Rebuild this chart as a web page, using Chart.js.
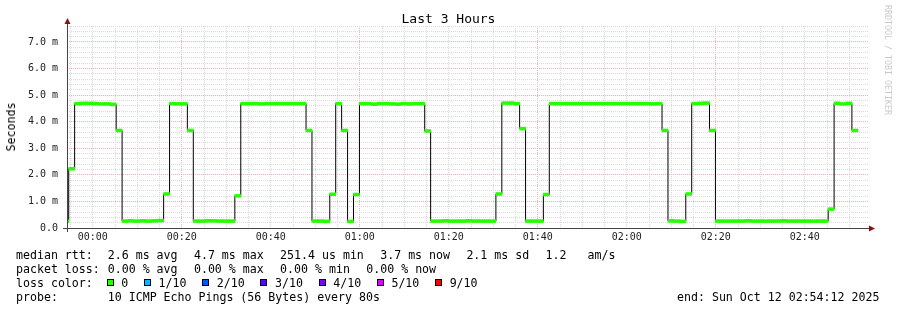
<!DOCTYPE html>
<html>
<head>
<meta charset="utf-8">
<script src="https://cdn.jsdelivr.net/npm/chart.js@4/dist/chart.umd.min.js"></script>
<style>
  body { margin: 0; background: #fff; }
  #wrap { position: relative; width: 897px; height: 310px; font-family: "DejaVu Sans Mono", monospace; color: #000; overflow: hidden; }
  #graph { position: absolute; left: 0; top: 0; }
  .title { position: absolute; left: 0; width: 897px; top: 11px; text-align: center; font-size: 13px; line-height: 16px; }
  .ylabel { position: absolute; left: 11px; top: 127px; font-size: 11.6px; line-height: 14px; transform: translate(-50%, -50%) rotate(-90deg); white-space: pre; }
  .mark { position: absolute; left: 883px; top: 5px; font-size: 8.3px; line-height: 10px; color: #cacaca; writing-mode: vertical-rl; white-space: pre; }
  .line { position: absolute; left: 16px; font-size: 11.6px; line-height: 14px; white-space: pre; }
  .gap { font-style: normal; margin-right: 2.4px; }
  .gap0 { font-style: normal; margin-right: 1px; }
  .end { position: absolute; left: 677px; font-size: 11.6px; line-height: 14px; white-space: pre; }
  #lossRow { position: absolute; left: 16px; top: 275.5px; font-size: 11.6px; line-height: 14px; white-space: pre; display: flex; align-items: center; }
  .sq { display: inline-block; width: 7px; height: 7px; box-sizing: border-box; border: 1px solid #000; margin-right: 7.5px; }
  .item { display: inline-flex; align-items: center; margin-right: 15.8px; }
  .item:first-of-type { margin-left: 2.3px; }
</style>
</head>
<body>
<div id="wrap">
  <canvas id="graph" width="897" height="310"></canvas>
  <div class="title">Last 3 Hours</div>
  <div class="ylabel">Seconds</div>
  <div class="mark">RRDTOOL / TOBI OETIKER</div>
  <div class="line" style="top:247.5px">median rtt:  <i class="gap0"></i>2.6 ms avg<i class="gap">  </i>4.7 ms max<i class="gap">  </i>251.4 us min<i class="gap">  </i>3.7 ms now<i class="gap">  </i>2.1 ms sd<i class="gap">  </i>1.2   am/s</div>
  <div class="line" style="top:261.5px">packet loss: <i class="gap0"></i>0.00 % avg<i class="gap">  </i>0.00 % max<i class="gap">  </i>0.00 % min<i class="gap">  </i>0.00 % now</div>
  <div id="lossRow"><span>loss color:  </span></div>
  <div class="line" style="top:289.5px">probe:       <i class="gap0"></i>10 ICMP Echo Pings (56 Bytes) every 80s</div>
  <div class="end" style="top:289.5px">end: Sun Oct 12 02:54:12 2025</div>
</div>
<script>
// median rtt of each 80 s probe round, in ms
const rttMedian = [
    0.25, 2.23,
    4.68, 4.69, 4.69, 4.68, 4.67, 4.67, 4.65,
    3.67,
    0.26, 0.27, 0.26, 0.27, 0.26, 0.27, 0.28,
    1.28,
    4.68, 4.67, 4.67,
    3.67,
    0.26, 0.26, 0.27, 0.27, 0.26, 0.26, 0.26,
    1.21,
    4.68, 4.68, 4.68, 4.67, 4.68, 4.68, 4.68, 4.68, 4.68, 4.68, 4.68,
    3.67,
    0.26, 0.26, 0.25,
    1.27,
    4.68,
    3.67,
    0.25,
    1.26,
    4.68, 4.68, 4.66, 4.68, 4.68, 4.67, 4.66, 4.68, 4.67, 4.68, 4.68,
    3.65,
    0.26, 0.26, 0.27, 0.26, 0.26, 0.26, 0.27, 0.26, 0.26, 0.26, 0.26,
    1.28,
    4.70, 4.70, 4.68,
    3.74,
    0.26, 0.26, 0.26,
    1.26,
    4.68, 4.68, 4.68, 4.68, 4.68, 4.68, 4.68, 4.68, 4.68, 4.68,
    4.68, 4.68, 4.68, 4.68, 4.68, 4.68, 4.68, 4.67, 4.68,
    3.67,
    0.27, 0.26, 0.25,
    1.28,
    4.68, 4.69, 4.70,
    3.67,
    0.26, 0.26, 0.26, 0.26, 0.26, 0.27, 0.26, 0.26, 0.26, 0.26,
    0.26, 0.27, 0.26, 0.26, 0.26, 0.26, 0.26, 0.26, 0.26,
    0.71,
    4.69, 4.67, 4.69,
    3.67
];

// time, in minutes from 00:00
const firstStepStart = -6.75;   // first round, partly before the window
const stepMinutes = 80 / 60;
const windowStart = -5.8;       // 23:54:12
const windowEnd = 174.2;        // 02:54:12

const xLabelMinutes = [0, 20, 40, 60, 80, 100, 120, 140, 160];
const xLabels = ["00:00", "00:20", "00:40", "01:00", "01:20", "01:40", "02:00", "02:20", "02:40"];
const xMajorMinutes = [20, 60, 100, 140];

const yLabelValues = [0, 1, 2, 3, 4, 5, 6, 7];
const yLabels = ["0.0", "1.0 m", "2.0 m", "3.0 m", "4.0 m", "5.0 m", "6.0 m", "7.0 m"];
const yMax = 7.6;

const lossLabels = ["0", "1/10", "2/10", "3/10", "4/10", "5/10", "9/10"];
const lossColors = ["#26ff00", "#00b8ff", "#0059ff", "#5e00ff", "#7e00ff", "#dd00ff", "#ff0000"];

// loss colour legend
const lossRow = document.getElementById("lossRow");
lossLabels.forEach((label, i) => {
    const item = document.createElement("span");
    item.className = "item";
    const sq = document.createElement("span");
    sq.className = "sq";
    sq.style.background = lossColors[i];
    item.appendChild(sq);
    item.appendChild(document.createTextNode(label));
    lossRow.appendChild(item);
});

const stepStarts = rttMedian.map((v, i) => firstStepStart + i * stepMinutes);
const bandHalf = 0.055;

const medianBars = rttMedian.map((v, i) => ({ x: stepStarts[i] + stepMinutes / 2, y: [v - bandHalf, v + bandHalf] }));
const medianLine = rttMedian.map((v, i) => ({ x: stepStarts[i], y: v }));
medianLine.push({ x: stepStarts[stepStarts.length - 1] + stepMinutes, y: rttMedian[rttMedian.length - 1] });

const gridGray = "#dadada";
const gridRed = "#f2b0b0";

function near(a, b) { return Math.abs(a - b) < 1e-6; }

// axes with arrows, drawn like rrdtool does
const axisPlugin = {
    id: "rrdAxes",
    afterDraw(chart) {
        const { left, right, top, bottom } = chart.chartArea;
        const ctx = chart.ctx;
        ctx.save();
        ctx.strokeStyle = "#444";
        ctx.lineWidth = 1;
        ctx.beginPath();
        ctx.moveTo(left - 4, bottom + 0.5);
        ctx.lineTo(right + 2, bottom + 0.5);
        ctx.moveTo(left + 0.5, bottom + 4);
        ctx.lineTo(left + 0.5, top - 3);
        ctx.stroke();
        ctx.fillStyle = "#8b1010";
        ctx.beginPath();
        ctx.moveTo(left + 0.5, top - 8);
        ctx.lineTo(left - 2.5, top - 2);
        ctx.lineTo(left + 3.5, top - 2);
        ctx.closePath();
        ctx.fill();
        ctx.beginPath();
        ctx.moveTo(right + 7, bottom + 0.5);
        ctx.lineTo(right + 1, bottom - 2.5);
        ctx.lineTo(right + 1, bottom + 3.5);
        ctx.closePath();
        ctx.fill();
        ctx.restore();
    }
};

const chart = new Chart(document.getElementById("graph"), {
    type: "bar",
    data: {
        datasets: [
            {
                type: "bar",
                data: medianBars,
                backgroundColor: lossColors[0],
                borderWidth: 0,
                barPercentage: 1,
                categoryPercentage: 1,
                clip: 0,
                order: 0
            },
            {
                type: "line",
                data: medianLine,
                borderColor: "#000",
                borderWidth: 1,
                pointRadius: 0,
                stepped: "before",
                tension: 0,
                clip: 0,
                order: 1
            }
        ]
    },
    options: {
        responsive: false,
        animation: false,
        layout: { padding: { left: 0, right: 29, top: 26, bottom: 62 } },
        plugins: { legend: { display: false }, tooltip: { enabled: false }, title: { display: false } },
        scales: {
            x: {
                type: "linear",
                min: windowStart,
                max: windowEnd,
                offset: false,
                afterBuildTicks: (scale) => {
                    const ticks = [];
                    for (let m = -5; m <= 170; m += 5) ticks.push({ value: m });
                    scale.ticks = ticks;
                },
                afterFit: (scale) => { scale.height = 20; },
                ticks: {
                    autoSkip: false,
                    maxRotation: 0,
                    padding: 3,
                    color: "#222",
                    font: { family: "DejaVu Sans Mono", size: 10 },
                    callback: (value) => {
                        const idx = xLabelMinutes.findIndex(m => near(m, value));
                        return idx >= 0 ? xLabels[idx] : "";
                    }
                },
                grid: {
                    offset: false,
                    drawTicks: false,
                    lineWidth: 1,
                    color: (ctx) => (ctx.tick && xMajorMinutes.some(m => near(m, ctx.tick.value))) ? gridRed : gridGray
                },
                border: { display: false, dash: [1, 1] }
            },
            y: {
                min: 0,
                max: yMax,
                afterFit: (scale) => { scale.width = 67; },
                ticks: {
                    stepSize: 0.2,
                    autoSkip: false,
                    padding: 9,
                    color: "#222",
                    font: { family: "DejaVu Sans Mono", size: 10 },
                    callback: (value) => {
                        const idx = yLabelValues.findIndex(v => near(v, value));
                        return idx >= 0 ? yLabels[idx] : "";
                    }
                },
                grid: {
                    drawTicks: false,
                    lineWidth: 1,
                    color: (ctx) => {
                        if (!ctx.tick) return gridGray;
                        const v = ctx.tick.value;
                        return near(v, Math.round(v)) ? gridRed : gridGray;
                    }
                },
                border: { display: false, dash: [1, 1] }
            }
        }
    },
    plugins: [axisPlugin]
});
</script>
</body>
</html>
